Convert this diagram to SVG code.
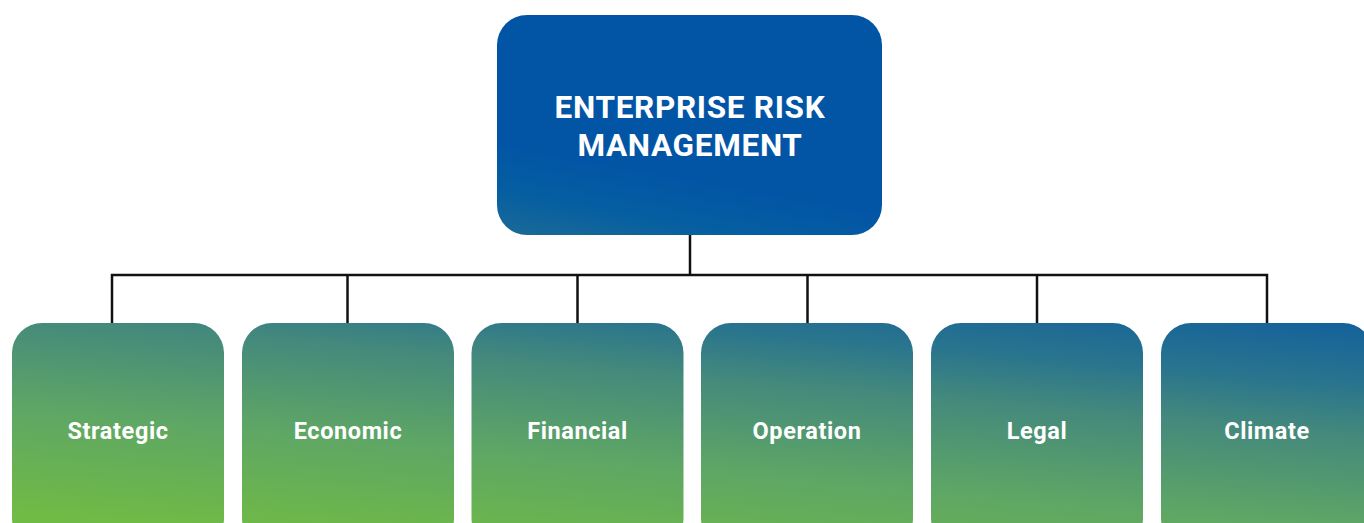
<svg xmlns="http://www.w3.org/2000/svg" width="1364" height="523" viewBox="0 0 1364 523">
  <defs>
    <linearGradient id="gTop" x1="0" y1="1" x2="0.12" y2="0.62">
      <stop offset="0" stop-color="#1B6B96"/>
      <stop offset="0.5" stop-color="#055EA1"/>
      <stop offset="1" stop-color="#0255A5"/>
    </linearGradient>
    <linearGradient id="gRow" gradientUnits="userSpaceOnUse" x1="1267" y1="318" x2="1240" y2="620">
      <stop offset="0" stop-color="#15629B"/>
      <stop offset="0.2" stop-color="#2A758D"/>
      <stop offset="0.36" stop-color="#44897C"/>
      <stop offset="0.66" stop-color="#5EA665"/>
      <stop offset="1" stop-color="#70BA46"/>
    </linearGradient>
    <style>
      .box{fill:url(#gRow);}
      .lbl{font-family:Roboto,"Liberation Sans",sans-serif;font-weight:700;font-size:23.5px;fill:#ffffff;text-anchor:middle;letter-spacing:0.6px;}
      .title{font-family:Roboto,"Liberation Sans",sans-serif;font-weight:700;font-size:31.5px;fill:#ffffff;text-anchor:middle;letter-spacing:0.7px;}
      .conn{fill:none;stroke:#111111;stroke-width:2.5;}
    </style>
  </defs>
  <rect width="1364" height="523" fill="#ffffff"/>
  <g id="connectors">
    <path class="conn" d="M690 235 V275"/>
    <path class="conn" d="M112 323 V275 H1267 V323"/>
    <path class="conn" d="M347.5 275 V323"/>
    <path class="conn" d="M577.5 275 V323"/>
    <path class="conn" d="M807.5 275 V323"/>
    <path class="conn" d="M1037 275 V323"/>
  </g>
  <g id="erm">
    <rect x="497" y="15" width="385" height="220" rx="30" ry="30" fill="url(#gTop)"/>
    <text class="title" x="690" y="118">ENTERPRISE RISK</text>
    <text class="title" x="690" y="156">MANAGEMENT</text>
  </g>
  <g id="strategic">
    <rect class="box" x="12" y="323" width="212" height="225" rx="30" ry="30"/>
    <text class="lbl" x="118" y="439">Strategic</text>
  </g>
  <g id="economic">
    <rect class="box" x="242" y="323" width="212" height="225" rx="30" ry="30"/>
    <text class="lbl" x="348" y="439">Economic</text>
  </g>
  <g id="financial">
    <rect class="box" x="471.5" y="323" width="212" height="225" rx="30" ry="30"/>
    <text class="lbl" x="577.5" y="439">Financial</text>
  </g>
  <g id="operation">
    <rect class="box" x="701" y="323" width="212" height="225" rx="30" ry="30"/>
    <text class="lbl" x="807" y="439">Operation</text>
  </g>
  <g id="legal">
    <rect class="box" x="931" y="323" width="212" height="225" rx="30" ry="30"/>
    <text class="lbl" x="1037" y="439">Legal</text>
  </g>
  <g id="climate">
    <rect class="box" x="1161" y="323" width="212" height="225" rx="30" ry="30"/>
    <text class="lbl" x="1267" y="439">Climate</text>
  </g>
</svg>
